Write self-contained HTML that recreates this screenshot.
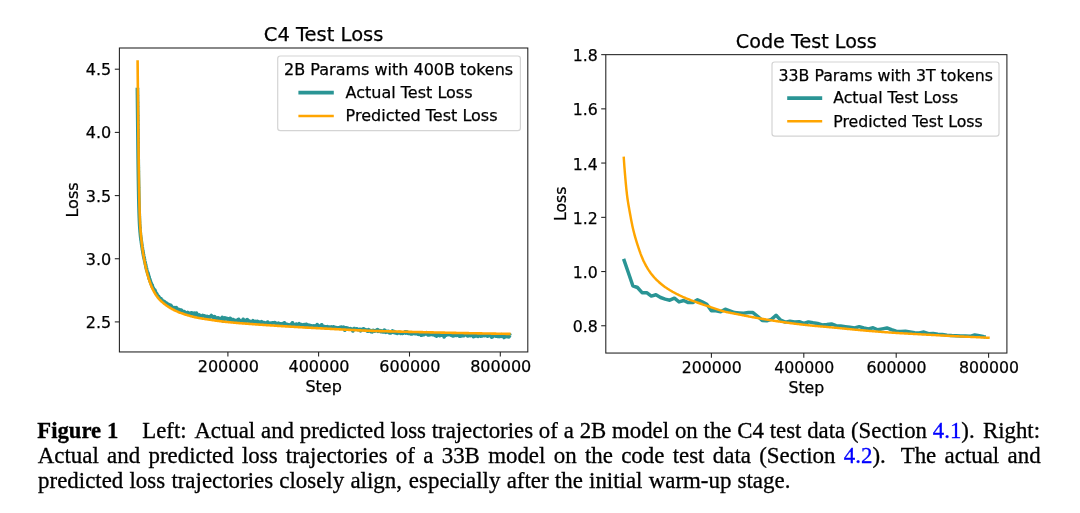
<!DOCTYPE html>
<html lang="en"><head><meta charset="utf-8"><title>Figure 1</title>
<style>
html,body{margin:0;padding:0;background:#fff}
body{width:1080px;height:513px;position:relative;overflow:hidden}
.cap{position:absolute;left:37.3px;height:0;font-family:"Liberation Serif","Times New Roman",serif;font-size:22.9px;line-height:0;color:#000;white-space:nowrap;-webkit-text-stroke:0.3px currentColor}
.gap{display:inline-block;height:1px}
.lk{color:#0000ff}
</style></head><body>
<svg width="1080" height="410" viewBox="0 0 1080 410" style="position:absolute;left:0;top:0" font-family='"DejaVu Sans", "Liberation Sans", sans-serif' font-size="16.0" fill="#000">
<style>text{stroke:#000;stroke-width:0.25px}.tk{stroke:#222;stroke-width:1.07}.sp{fill:none;stroke:#222;stroke-width:1.07}.ln{fill:none;stroke-linejoin:round;stroke-linecap:butt}</style>
<path class="ln" d="M137.41,87.75 L137.41,88.20 L137.41,88.65 L137.42,89.10 L137.42,89.55 L137.43,90.00 L137.43,90.45 L137.44,90.90 L137.44,91.35 L137.45,91.80 L137.45,92.25 L137.45,92.70 L137.46,93.15 L137.46,93.60 L137.47,94.05 L137.47,94.50 L137.48,94.95 L137.48,95.40 L137.49,95.85 L137.49,96.30 L137.50,96.75 L137.50,97.20 L137.51,97.65 L137.51,98.10 L137.52,98.55 L137.52,99.00 L137.52,99.45 L137.53,99.90 L137.53,100.35 L137.54,100.80 L137.54,101.25 L137.55,101.70 L137.55,102.15 L137.56,102.60 L137.56,103.05 L137.57,103.50 L137.57,103.95 L137.58,104.40 L137.58,104.85 L137.59,105.30 L137.59,105.75 L137.60,106.20 L137.60,106.65 L137.61,107.10 L137.61,107.55 L137.62,108.00 L137.62,108.45 L137.63,108.90 L137.63,109.35 L137.64,109.80 L137.64,110.25 L137.65,110.70 L137.65,111.15 L137.66,111.60 L137.66,112.05 L137.67,112.50 L137.67,112.95 L137.68,113.40 L137.68,113.85 L137.69,114.30 L137.69,114.75 L137.70,115.20 L137.70,115.65 L137.71,116.10 L137.71,116.55 L137.72,117.00 L137.72,117.45 L137.73,117.90 L137.73,118.35 L137.74,118.80 L137.74,119.25 L137.75,119.70 L137.75,120.15 L137.76,120.60 L137.76,121.05 L137.77,121.50 L137.77,121.95 L137.78,122.40 L137.78,122.85 L137.79,123.30 L137.79,123.75 L137.80,124.20 L137.80,124.65 L137.81,125.10 L137.81,125.55 L137.82,126.00 L137.82,126.45 L137.83,126.90 L137.83,127.35 L137.84,127.80 L137.84,128.25 L137.85,128.70 L137.85,129.15 L137.86,129.60 L137.86,130.05 L137.87,130.50 L137.87,130.95 L137.88,131.40 L137.88,131.85 L137.89,132.30 L137.89,132.75 L137.90,133.20 L137.90,133.65 L137.91,134.10 L137.91,134.55 L137.92,135.00 L137.92,135.45 L137.93,135.90 L137.93,136.35 L137.94,136.80 L137.94,137.25 L137.95,137.70 L137.95,138.15 L137.96,138.60 L137.96,139.05 L137.97,139.50 L137.97,139.95 L137.98,140.40 L137.98,140.85 L137.99,141.30 L137.99,141.75 L138.00,142.20 L138.00,142.65 L138.01,143.10 L138.01,143.55 L138.02,144.00 L138.02,144.45 L138.03,144.90 L138.03,145.35 L138.04,145.80 L138.04,146.25 L138.05,146.70 L138.05,147.15 L138.06,147.60 L138.06,148.05 L138.07,148.50 L138.07,148.95 L138.08,149.40 L138.08,149.85 L138.09,150.30 L138.09,150.75 L138.10,151.20 L138.10,151.65 L138.11,152.10 L138.11,152.55 L138.12,153.00 L138.13,153.45 L138.13,153.90 L138.14,154.35 L138.14,154.80 L138.15,155.25 L138.15,155.70 L138.16,156.15 L138.16,156.60 L138.17,157.05 L138.17,157.50 L138.18,157.95 L138.19,158.40 L138.19,158.85 L138.20,159.30 L138.20,159.75 L138.21,160.20 L138.21,160.65 L138.22,161.10 L138.23,161.55 L138.23,162.00 L138.24,162.45 L138.24,162.90 L138.25,163.35 L138.25,163.80 L138.26,164.25 L138.27,164.70 L138.27,165.15 L138.28,165.60 L138.28,166.05 L138.29,166.50 L138.30,166.95 L138.30,167.40 L138.31,167.85 L138.31,168.30 L138.32,168.75 L138.33,169.20 L138.33,169.65 L138.34,170.10 L138.35,170.55 L138.35,171.00 L138.36,171.45 L138.36,171.90 L138.37,172.35 L138.38,172.80 L138.38,173.25 L138.39,173.70 L138.40,174.15 L138.40,174.60 L138.41,175.05 L138.42,175.50 L138.42,175.95 L138.43,176.40 L138.44,176.85 L138.44,177.30 L138.45,177.75 L138.46,178.20 L138.47,178.65 L138.47,179.10 L138.48,179.55 L138.49,180.00 L138.49,180.45 L138.50,180.90 L138.51,181.35 L138.52,181.80 L138.52,182.25 L138.53,182.70 L138.54,183.15 L138.54,183.60 L138.55,184.05 L138.56,184.50 L138.57,184.95 L138.58,185.40 L138.58,185.85 L138.59,186.30 L138.60,186.75 L138.61,187.20 L138.61,187.65 L138.62,188.10 L138.63,188.55 L138.64,189.00 L138.65,189.45 L138.65,189.90 L138.66,190.35 L138.67,190.80 L138.68,191.25 L138.69,191.70 L138.70,192.15 L138.70,192.60 L138.71,193.05 L138.72,193.50 L138.73,193.95 L138.74,194.40 L138.75,194.85 L138.76,195.30 L138.76,195.75 L138.77,196.20 L138.78,196.65 L138.79,197.10 L138.80,197.55 L138.81,198.00 L138.82,198.45 L138.83,198.90 L138.84,199.35 L138.85,199.80 L138.86,200.25 L138.87,200.70 L138.88,201.15 L138.89,201.60 L138.90,202.05 L138.91,202.50 L138.92,202.95 L138.93,203.40 L138.94,203.85 L138.95,204.30 L138.96,204.75 L138.97,205.20 L138.98,205.65 L139.00,206.10 L139.01,206.55 L139.02,207.00 L139.03,207.45 L139.04,207.90 L139.06,208.35 L139.07,208.80 L139.08,209.25 L139.09,209.70 L139.11,210.15 L139.12,210.60 L139.13,211.05 L139.15,211.50 L139.16,211.95 L139.18,212.40 L139.19,212.85 L139.20,213.30 L139.22,213.75 L139.23,214.20 L139.25,214.65 L139.27,215.10 L139.28,215.55 L139.30,216.00 L139.31,216.45 L139.33,216.90 L139.35,217.35 L139.36,217.80 L139.38,218.25 L139.40,218.70 L139.42,219.15 L139.43,219.60 L139.45,220.05 L139.47,220.50 L139.49,220.95 L139.51,221.40 L139.53,221.85 L139.55,222.30 L139.57,222.75 L139.59,223.20 L139.61,223.65 L139.64,224.10 L139.66,224.55 L139.68,225.00 L139.71,225.45 L139.74,225.90 L139.77,226.35 L139.80,226.80 L139.82,227.25 L139.86,227.70 L139.89,228.15 L139.93,228.60 L139.97,229.05 L140.00,229.50 L140.02,229.95 L140.05,230.40 L140.10,230.85 L140.13,231.30 L140.17,231.75 L140.21,232.20 L140.25,232.65 L140.30,233.10 L140.36,233.54 L140.39,233.99 L140.42,234.44 L140.46,234.89 L140.51,235.34 L140.56,235.79 L140.61,236.24 L140.65,236.69 L140.71,237.13 L140.80,237.58 L140.86,238.02 L140.92,238.47 L140.98,238.92 L141.00,239.37 L140.99,239.82 L141.15,240.26 L141.22,240.70 L141.34,241.14 L141.35,241.59 L141.40,242.04 L141.42,242.49 L141.49,242.94 L141.59,243.38 L141.64,243.82 L141.68,244.27 L141.79,244.71 L141.88,245.15 L141.94,245.60 L141.97,246.05 L142.01,246.50 L142.10,246.94 L142.22,247.38 L142.30,247.82 L142.35,248.27 L142.39,248.72 L142.43,249.17 L142.48,249.62 L142.59,250.06 L142.69,250.50 L142.76,250.94 L142.86,251.38 L142.93,251.83 L142.96,252.28 L143.03,252.73 L143.13,253.17 L143.22,253.61 L143.29,254.06 L143.36,254.50 L143.60,254.92 L143.51,255.39 L143.59,255.83 L143.75,256.27 L143.85,256.70 L143.89,257.16 L143.98,257.60 L144.06,258.04 L144.17,258.48 L144.31,258.91 L144.43,259.35 L144.53,259.78 L144.59,260.23 L144.67,260.67 L144.75,261.12 L144.84,261.56 L144.98,261.99 L145.09,262.42 L145.20,262.86 L145.25,263.31 L145.30,263.76 L145.43,264.19 L145.60,264.61 L145.71,265.04 L145.75,265.49 L145.79,265.94 L145.89,266.38 L146.04,266.80 L146.08,267.25 L146.14,267.70 L146.38,268.11 L146.55,268.53 L146.52,269.00 L146.58,269.45 L146.72,269.88 L146.88,270.30 L147.05,270.73 L147.14,271.17 L147.27,271.60 L147.44,272.03 L147.56,272.46 L147.66,272.90 L148.05,273.27 L147.72,273.82 L147.95,274.23 L148.28,274.61 L148.41,275.04 L148.48,275.49 L148.62,275.92 L148.76,276.35 L148.99,276.75 L149.16,277.17 L149.07,277.66 L149.04,278.15 L149.19,278.57 L149.43,278.96 L149.78,279.32 L149.96,279.74 L149.89,280.23 L149.95,280.68 L150.29,281.03 L150.46,281.44 L150.43,281.93 L150.63,282.33 L150.92,282.69 L151.11,283.09 L151.20,283.53 L151.25,283.98 L151.35,284.41 L151.65,284.77 L152.11,285.06 L152.28,285.46 L152.24,285.95 L152.21,286.44 L152.33,286.87 L152.67,287.21 L153.01,287.55 L153.22,287.95 L153.35,288.39 L153.48,288.82 L153.77,289.19 L154.15,289.50 L154.60,289.78 L154.86,290.15 L154.79,290.69 L154.83,291.18 L155.39,291.38 L155.27,291.97 L155.50,292.35 L155.75,292.72 L156.02,293.08 L156.39,293.38 L156.68,293.71 L156.90,294.09 L157.07,294.50 L157.19,294.95 L157.42,295.31 L157.75,295.60 L158.08,295.89 L158.43,296.16 L158.61,296.54 L158.75,296.95 L159.03,297.26 L159.26,297.62 L159.57,297.91 L159.83,298.24 L160.05,298.63 L160.56,298.74 L161.04,298.88 L161.28,299.25 L161.54,299.61 L161.80,299.97 L162.09,300.31 L162.46,300.55 L162.86,300.77 L163.18,301.08 L163.48,301.42 L163.96,301.55 L164.39,301.73 L164.66,302.10 L165.03,302.36 L165.34,302.68 L165.60,303.08 L166.11,303.15 L166.62,303.20 L166.99,303.46 L167.29,303.79 L167.52,304.23 L167.94,304.39 L168.48,304.38 L168.87,304.57 L169.04,305.10 L169.27,305.54 L169.89,305.36 L170.53,305.14 L170.86,305.41 L170.93,306.10 L171.15,306.57 L171.71,306.48 L171.93,306.98 L172.07,307.61 L172.59,307.58 L172.94,307.87 L173.27,308.19 L173.94,307.87 L174.56,307.63 L174.90,307.92 L175.38,307.93 L176.04,307.57 L176.40,307.82 L176.53,308.58 L176.71,309.23 L177.00,309.66 L177.49,309.64 L178.09,309.36 L178.54,309.41 L178.96,309.52 L179.35,309.73 L179.62,310.20 L180.05,310.28 L180.59,310.07 L181.06,310.05 L181.48,310.17 L181.80,310.58 L182.12,310.97 L182.49,311.24 L182.74,311.84 L183.13,312.06 L183.74,311.65 L184.24,311.56 L184.55,312.03 L184.83,312.57 L185.28,312.63 L185.74,312.66 L186.04,313.18 L186.40,313.51 L187.04,312.98 L187.68,312.41 L188.06,312.68 L188.38,313.14 L188.86,313.09 L189.21,313.46 L189.45,314.24 L190.01,313.91 L190.65,313.27 L191.17,313.01 L191.68,312.82 L192.06,313.09 L192.38,313.61 L192.79,313.78 L193.20,313.95 L193.55,314.37 L194.29,313.17 L194.59,313.78 L195.06,313.69 L195.35,314.38 L195.70,314.79 L196.50,313.20 L196.68,314.39 L197.10,314.49 L197.50,314.73 L197.83,315.32 L198.22,315.58 L198.72,315.31 L199.24,314.94 L199.64,315.22 L199.91,316.16 L200.35,316.26 L200.86,315.90 L201.24,316.30 L201.67,316.40 L202.24,315.71 L202.73,315.48 L203.12,315.85 L203.54,316.00 L204.01,315.91 L204.46,315.91 L204.88,316.10 L205.24,316.69 L205.66,316.93 L206.14,316.73 L206.61,316.66 L207.09,316.43 L207.52,316.62 L207.91,317.04 L208.37,317.02 L208.86,316.79 L209.32,316.74 L209.72,317.13 L210.18,317.09 L210.76,316.22 L211.31,315.57 L211.72,315.92 L212.05,316.78 L212.49,316.90 L212.97,316.73 L213.33,317.37 L213.71,317.90 L214.20,317.61 L214.79,316.73 L215.02,318.26 L215.38,318.87 L215.87,318.59 L216.41,318.05 L216.85,318.14 L217.29,318.17 L217.79,317.89 L218.24,317.91 L218.66,318.11 L219.08,318.31 L219.48,318.67 L219.90,318.93 L220.37,318.72 L220.88,318.27 L221.30,318.51 L221.68,319.02 L222.33,317.46 L222.61,318.78 L223.04,318.90 L223.23,321.10 L223.83,319.75 L224.39,318.83 L224.93,317.87 L225.34,318.19 L225.72,318.83 L226.20,318.49 L226.67,318.29 L227.05,319.03 L227.47,319.28 L227.96,318.85 L228.41,318.83 L228.83,319.20 L229.28,319.19 L229.79,318.53 L230.25,318.40 L230.65,318.93 L231.02,319.72 L231.42,320.31 L231.90,319.98 L232.37,319.69 L232.83,319.60 L233.28,319.62 L233.67,320.31 L234.08,320.70 L234.56,320.40 L235.01,320.39 L235.45,320.54 L235.90,320.56 L236.31,320.95 L236.76,321.03 L237.27,320.22 L237.76,319.75 L238.24,319.46 L238.69,319.37 L239.06,320.41 L239.43,321.42 L239.87,321.52 L240.33,321.36 L240.81,321.05 L241.25,321.13 L241.68,321.43 L242.14,321.31 L242.60,321.26 L243.20,319.28 L243.53,320.89 L243.96,321.05 L244.41,321.12 L244.85,321.32 L245.27,321.70 L245.71,321.85 L246.22,321.04 L246.75,319.94 L247.22,319.67 L247.64,320.08 L248.04,320.79 L248.47,321.08 L248.94,320.84 L249.37,321.06 L249.80,321.46 L250.24,321.51 L250.69,321.54 L251.13,321.64 L251.57,321.85 L252.01,322.08 L252.50,321.48 L253.00,320.76 L253.42,321.25 L253.84,321.68 L254.31,321.40 L254.75,321.58 L255.16,322.14 L255.54,323.12 L256.11,321.47 L256.55,321.57 L257.01,321.51 L257.46,321.44 L257.88,321.95 L258.31,322.25 L258.78,321.96 L259.22,322.00 L259.62,322.78 L260.06,322.97 L260.55,322.43 L261.03,321.96 L261.50,321.61 L261.93,321.94 L262.34,322.56 L262.80,322.46 L263.24,322.52 L263.68,322.68 L264.14,322.59 L264.55,323.22 L264.97,323.68 L265.43,323.48 L265.88,323.45 L266.35,323.16 L266.84,322.61 L267.32,322.19 L267.78,322.08 L268.18,322.86 L268.57,323.65 L269.02,323.67 L269.47,323.68 L269.93,323.52 L270.41,323.16 L270.83,323.57 L271.27,323.83 L271.76,323.20 L272.23,322.92 L272.67,322.97 L273.13,322.90 L273.58,322.89 L274.04,322.82 L274.50,322.64 L274.94,322.77 L275.38,322.98 L275.80,323.39 L276.22,323.93 L276.67,323.83 L277.14,323.54 L277.58,323.72 L278.04,323.68 L278.52,323.12 L278.95,323.44 L279.34,324.43 L279.78,324.64 L280.26,324.15 L280.72,323.93 L281.17,324.02 L281.62,324.00 L282.08,323.92 L282.53,323.87 L282.97,324.04 L283.43,323.84 L283.94,322.98 L284.39,322.89 L284.78,323.95 L285.19,324.57 L285.66,324.31 L286.12,324.15 L286.55,324.50 L286.99,324.56 L287.45,324.47 L287.88,324.79 L288.33,324.91 L288.77,325.07 L289.19,325.54 L289.65,325.42 L290.14,324.77 L290.61,324.43 L291.04,324.81 L291.46,325.29 L291.93,324.85 L292.50,322.87 L292.88,324.14 L293.30,324.65 L293.74,324.83 L294.20,324.65 L294.63,324.99 L295.05,325.43 L295.53,324.97 L296.03,324.25 L296.48,324.13 L296.92,324.36 L297.36,324.58 L297.80,324.68 L298.24,324.96 L298.71,324.58 L299.21,323.78 L299.63,324.24 L300.03,325.06 L300.48,325.10 L300.95,324.70 L301.41,324.63 L301.81,325.44 L302.23,326.04 L302.70,325.67 L303.17,325.26 L303.64,324.95 L304.11,324.67 L304.55,324.77 L304.98,325.20 L305.41,325.52 L305.80,326.59 L306.38,324.28 L306.81,324.71 L307.23,325.25 L307.69,325.10 L308.14,325.04 L308.56,325.69 L309.00,325.83 L309.47,325.40 L309.92,325.44 L310.35,325.75 L310.80,325.84 L311.25,325.88 L311.70,325.92 L312.13,326.19 L312.57,326.46 L313.04,326.05 L313.50,325.86 L313.93,326.32 L314.38,326.25 L314.84,326.12 L315.27,326.42 L315.72,326.55 L316.18,326.39 L316.67,325.53 L317.17,324.69 L317.60,325.06 L318.01,325.88 L318.44,326.11 L318.89,326.20 L319.35,326.07 L319.80,326.10 L320.22,326.53 L320.68,326.40 L321.15,326.10 L321.67,324.80 L322.03,326.43 L322.46,326.87 L322.92,326.59 L323.38,326.39 L323.83,326.52 L324.27,326.72 L324.68,327.41 L325.12,327.69 L325.61,326.84 L326.00,328.08 L326.52,326.76 L326.97,326.74 L327.42,326.70 L327.85,327.20 L328.28,327.54 L328.75,327.12 L329.21,327.01 L329.64,327.29 L330.10,327.17 L330.53,327.52 L330.98,327.63 L331.46,327.07 L331.89,327.42 L332.31,328.04 L332.78,327.66 L333.27,326.91 L333.72,326.91 L334.14,327.38 L334.60,327.34 L335.05,327.35 L335.48,327.68 L335.93,327.66 L336.38,327.75 L336.81,328.06 L337.26,328.06 L337.73,327.86 L338.17,327.92 L338.61,328.17 L339.07,327.95 L339.55,327.51 L340.00,327.46 L340.46,327.33 L340.91,327.22 L341.37,327.10 L341.82,327.20 L342.23,327.83 L342.67,328.06 L343.14,327.77 L343.62,327.17 L344.05,327.57 L344.43,328.94 L344.81,330.20 L345.37,328.12 L345.84,327.77 L346.28,327.97 L346.72,328.24 L347.17,328.18 L347.62,328.17 L348.07,328.24 L348.50,328.64 L348.92,329.20 L349.38,329.07 L349.84,328.78 L350.31,328.58 L350.74,328.84 L351.18,329.14 L351.63,329.06 L352.07,329.37 L352.49,329.81 L352.89,330.94 L353.42,329.24 L353.91,328.64 L354.36,328.59 L354.80,328.76 L355.25,328.76 L355.69,329.00 L356.13,329.17 L356.60,328.85 L357.05,328.85 L357.47,329.34 L357.91,329.61 L358.36,329.55 L358.81,329.67 L359.26,329.67 L359.72,329.41 L360.17,329.46 L360.56,330.78 L361.05,329.85 L361.51,329.66 L361.96,329.61 L362.42,329.47 L362.89,329.01 L363.34,328.93 L363.79,328.90 L364.22,329.32 L364.64,330.13 L365.09,330.22 L365.55,329.94 L366.00,329.96 L366.44,330.15 L366.87,330.64 L367.30,331.05 L367.75,331.15 L368.20,331.15 L368.70,329.74 L369.12,330.70 L369.56,330.86 L370.02,330.58 L370.47,330.66 L370.90,331.36 L371.33,331.74 L371.78,331.76 L372.23,331.83 L372.71,331.09 L373.18,330.39 L373.62,330.64 L374.06,330.93 L374.51,331.10 L374.96,330.99 L375.41,330.88 L375.87,330.80 L376.33,330.27 L376.79,330.01 L377.23,330.45 L377.70,329.83 L378.10,331.24 L378.56,331.03 L379.02,330.86 L379.47,330.80 L379.92,330.60 L380.37,330.85 L380.79,331.70 L381.25,331.57 L381.71,331.02 L382.15,331.41 L382.59,331.78 L383.04,331.92 L383.49,331.99 L383.96,331.16 L384.44,330.20 L384.87,330.75 L385.29,331.93 L385.73,332.24 L386.19,331.74 L386.65,331.47 L387.09,331.94 L387.54,331.98 L388.01,331.34 L388.46,331.31 L388.89,332.01 L389.32,332.70 L389.77,332.89 L390.21,332.98 L390.67,332.85 L391.13,332.26 L391.59,332.02 L392.05,331.59 L392.52,330.97 L392.95,331.48 L393.39,332.20 L393.85,331.82 L394.30,331.71 L394.73,332.51 L395.17,332.85 L395.62,332.89 L396.07,332.73 L396.53,332.60 L396.96,333.33 L397.41,333.45 L397.87,332.87 L398.33,332.63 L398.78,332.47 L399.23,332.48 L399.68,332.41 L400.13,332.66 L400.56,333.32 L401.01,333.29 L401.47,333.00 L401.93,332.81 L402.37,332.86 L402.82,333.28 L403.27,333.13 L403.73,332.61 L404.18,332.73 L404.63,332.72 L405.10,331.78 L405.55,331.91 L405.97,333.08 L406.43,332.70 L406.90,331.81 L407.34,332.21 L407.78,332.92 L408.22,333.31 L408.66,333.49 L409.11,333.52 L409.57,333.36 L410.02,333.16 L410.47,333.40 L410.91,333.84 L411.35,333.95 L411.81,333.83 L412.26,333.83 L412.71,333.48 L413.18,333.00 L413.62,333.03 L414.07,333.17 L414.52,333.29 L414.96,333.51 L415.41,333.71 L415.86,333.63 L416.31,333.64 L416.76,333.71 L417.22,333.39 L417.66,333.62 L418.10,334.18 L418.55,334.31 L419.00,334.19 L419.45,334.09 L419.90,333.92 L420.36,333.75 L420.79,334.48 L421.22,335.19 L421.68,335.14 L422.13,334.96 L422.60,334.20 L423.07,333.44 L423.51,333.81 L423.94,334.61 L424.40,334.27 L424.87,333.42 L425.31,333.58 L425.76,333.81 L426.22,333.17 L426.69,332.63 L427.13,333.07 L427.56,333.76 L427.99,334.83 L428.46,333.99 L428.89,334.55 L429.34,334.77 L429.79,334.62 L430.24,334.64 L430.70,334.46 L431.16,333.77 L431.62,333.48 L432.05,334.20 L432.49,334.58 L432.95,334.34 L433.41,333.99 L433.86,333.95 L434.30,334.54 L434.73,335.18 L435.17,335.45 L435.63,335.04 L436.10,334.40 L436.51,336.17 L436.99,334.96 L437.44,334.84 L437.90,334.46 L438.35,334.43 L438.79,334.72 L439.23,335.15 L439.67,335.60 L440.14,335.09 L440.60,334.61 L441.03,335.24 L441.48,335.17 L441.95,334.69 L442.39,334.93 L442.84,335.09 L443.29,334.87 L443.75,334.72 L444.15,336.90 L444.63,335.54 L445.08,335.36 L445.53,335.25 L445.99,335.12 L446.45,334.67 L446.91,334.30 L447.35,334.41 L447.80,334.65 L448.26,334.32 L448.71,333.94 L449.17,333.87 L449.61,334.10 L450.05,334.70 L450.50,334.84 L450.95,334.90 L451.39,335.29 L451.84,335.26 L452.29,335.22 L452.73,335.60 L453.17,335.97 L453.63,335.74 L454.09,335.03 L454.56,334.47 L455.01,334.47 L455.45,334.93 L455.89,335.34 L456.34,335.39 L456.79,335.16 L457.25,335.01 L457.71,334.57 L458.16,334.30 L458.59,335.12 L459.03,335.97 L459.47,336.15 L459.92,336.22 L460.38,335.74 L460.85,334.89 L461.29,335.19 L461.73,335.70 L462.20,335.05 L462.65,334.70 L463.09,335.32 L463.53,335.73 L463.99,335.54 L464.45,335.15 L464.90,334.78 L465.36,334.49 L465.81,334.38 L466.26,334.37 L466.71,334.46 L467.15,335.18 L467.58,335.95 L468.04,335.74 L468.49,335.43 L468.94,335.37 L469.40,335.26 L469.84,335.64 L470.29,335.66 L470.75,334.97 L471.20,334.91 L471.65,335.12 L472.10,334.90 L472.55,334.86 L472.99,335.72 L473.42,336.66 L473.87,336.47 L474.33,336.13 L474.78,336.07 L475.24,335.50 L475.70,335.20 L476.14,335.83 L476.59,335.80 L477.05,335.16 L477.49,335.70 L477.93,336.24 L478.39,335.76 L478.84,335.63 L479.29,335.76 L479.74,335.65 L480.19,335.97 L480.63,336.19 L481.09,335.72 L481.55,335.55 L481.99,335.81 L482.44,335.80 L482.90,335.19 L483.36,334.81 L483.80,335.25 L484.25,335.42 L484.70,335.60 L485.16,334.87 L485.60,335.41 L486.05,335.09 L486.50,335.11 L486.95,335.62 L487.39,336.19 L487.84,336.15 L488.31,334.85 L488.75,335.30 L489.20,335.16 L489.65,335.28 L490.11,335.13 L490.56,335.10 L490.99,335.91 L491.43,336.82 L491.87,337.09 L492.33,336.52 L492.78,336.64 L493.24,335.80 L493.70,335.59 L494.16,335.20 L494.61,335.03 L495.05,335.33 L495.49,335.96 L495.94,336.18 L496.39,336.07 L496.84,336.13 L497.29,336.31 L497.74,335.92 L498.20,335.84 L498.64,336.47 L499.08,336.59 L499.54,336.45 L499.99,336.12 L500.45,335.82 L500.90,335.89 L501.34,336.23 L501.81,334.76 L502.24,336.22 L502.69,336.13 L503.14,336.08 L503.59,336.59 L504.02,337.45 L504.48,337.08 L504.95,336.03 L505.40,335.55 L505.85,335.81 L506.29,336.44 L506.74,336.56 L507.20,335.66 L507.66,335.29 L508.10,336.01 L508.54,336.78 L508.98,336.90 L509.45,335.79 L509.91,334.94 L510.35,335.54" stroke="#2a9595" stroke-width="3.7" stroke-linecap="square"/>
<path class="ln" d="M137.60,60.30 L137.61,60.97 L137.61,61.63 L137.62,62.30 L137.62,62.97 L137.63,63.63 L137.63,64.30 L137.64,64.97 L137.65,65.63 L137.65,66.30 L137.66,66.96 L137.66,67.63 L137.67,68.30 L137.68,68.96 L137.68,69.63 L137.69,70.30 L137.69,70.96 L137.70,71.63 L137.71,72.30 L137.71,72.96 L137.72,73.63 L137.73,74.30 L137.73,74.96 L137.74,75.63 L137.74,76.30 L137.75,76.96 L137.76,77.63 L137.76,78.29 L137.77,78.96 L137.78,79.63 L137.78,80.29 L137.79,80.96 L137.79,81.63 L137.80,82.29 L137.81,82.96 L137.81,83.63 L137.82,84.29 L137.83,84.96 L137.83,85.63 L137.84,86.29 L137.85,86.96 L137.85,87.62 L137.86,88.29 L137.87,88.96 L137.87,89.62 L137.88,90.29 L137.89,90.96 L137.89,91.62 L137.90,92.29 L137.91,92.96 L137.91,93.62 L137.92,94.29 L137.93,94.96 L137.93,95.62 L137.94,96.29 L137.95,96.96 L137.96,97.62 L137.96,98.29 L137.97,98.95 L137.98,99.62 L137.98,100.29 L137.99,100.95 L138.00,101.62 L138.00,102.29 L138.01,102.95 L138.02,103.62 L138.03,104.29 L138.03,104.95 L138.04,105.62 L138.05,106.29 L138.05,106.95 L138.06,107.62 L138.07,108.28 L138.08,108.95 L138.08,109.62 L138.09,110.28 L138.10,110.95 L138.11,111.62 L138.11,112.28 L138.12,112.95 L138.13,113.62 L138.14,114.28 L138.14,114.95 L138.15,115.62 L138.16,116.28 L138.17,116.95 L138.17,117.61 L138.18,118.28 L138.19,118.95 L138.20,119.61 L138.20,120.28 L138.21,120.95 L138.22,121.61 L138.23,122.28 L138.23,122.95 L138.24,123.61 L138.25,124.28 L138.26,124.95 L138.26,125.61 L138.27,126.28 L138.28,126.95 L138.29,127.61 L138.29,128.28 L138.30,128.94 L138.31,129.61 L138.31,130.28 L138.32,130.94 L138.33,131.61 L138.34,132.28 L138.34,132.94 L138.35,133.61 L138.36,134.28 L138.37,134.94 L138.37,135.61 L138.38,136.28 L138.39,136.94 L138.40,137.61 L138.40,138.27 L138.41,138.94 L138.42,139.61 L138.42,140.27 L138.43,140.94 L138.44,141.61 L138.45,142.27 L138.45,142.94 L138.46,143.61 L138.47,144.27 L138.48,144.94 L138.48,145.61 L138.49,146.27 L138.50,146.94 L138.51,147.61 L138.52,148.27 L138.52,148.94 L138.53,149.60 L138.54,150.27 L138.55,150.94 L138.55,151.60 L138.56,152.27 L138.57,152.94 L138.58,153.60 L138.59,154.27 L138.59,154.94 L138.60,155.60 L138.61,156.27 L138.62,156.94 L138.63,157.60 L138.63,158.27 L138.64,158.94 L138.65,159.60 L138.66,160.27 L138.67,160.93 L138.68,161.60 L138.68,162.27 L138.69,162.93 L138.70,163.60 L138.71,164.27 L138.72,164.93 L138.73,165.60 L138.74,166.27 L138.75,166.93 L138.75,167.60 L138.76,168.27 L138.77,168.93 L138.78,169.60 L138.79,170.26 L138.80,170.93 L138.81,171.60 L138.82,172.26 L138.83,172.93 L138.84,173.60 L138.85,174.26 L138.86,174.93 L138.87,175.60 L138.88,176.26 L138.89,176.93 L138.90,177.60 L138.91,178.26 L138.92,178.93 L138.93,179.59 L138.94,180.26 L138.95,180.93 L138.96,181.59 L138.97,182.26 L138.98,182.93 L138.99,183.59 L139.01,184.26 L139.02,184.93 L139.03,185.59 L139.04,186.26 L139.05,186.92 L139.06,187.59 L139.07,188.26 L139.09,188.92 L139.10,189.59 L139.11,190.26 L139.12,190.92 L139.14,191.59 L139.15,192.26 L139.16,192.92 L139.17,193.59 L139.19,194.25 L139.20,194.92 L139.21,195.59 L139.22,196.25 L139.24,196.92 L139.25,197.59 L139.27,198.25 L139.28,198.92 L139.29,199.59 L139.31,200.25 L139.32,200.92 L139.34,201.58 L139.35,202.25 L139.37,202.92 L139.38,203.58 L139.40,204.25 L139.42,204.92 L139.43,205.58 L139.45,206.25 L139.47,206.92 L139.48,207.58 L139.50,208.25 L139.52,208.92 L139.54,209.58 L139.56,210.25 L139.58,210.92 L139.60,211.58 L139.62,212.25 L139.64,212.91 L139.66,213.58 L139.69,214.25 L139.71,214.91 L139.73,215.58 L139.76,216.25 L139.78,216.91 L139.81,217.58 L139.83,218.24 L139.86,218.91 L139.88,219.57 L139.91,220.24 L139.94,220.90 L139.97,221.57 L140.00,222.23 L140.03,222.90 L140.06,223.56 L140.10,224.23 L140.13,224.90 L140.17,225.56 L140.21,226.23 L140.26,226.89 L140.30,227.56 L140.35,228.22 L140.40,228.89 L140.45,229.55 L140.50,230.22 L140.56,230.88 L140.61,231.55 L140.67,232.21 L140.73,232.88 L140.79,233.54 L140.85,234.20 L140.91,234.87 L140.98,235.53 L141.04,236.20 L141.11,236.86 L141.17,237.52 L141.24,238.19 L141.31,238.85 L141.38,239.51 L141.45,240.18 L141.52,240.84 L141.60,241.50 L141.67,242.16 L141.74,242.82 L141.82,243.49 L141.89,244.15 L141.97,244.81 L142.05,245.47 L142.13,246.13 L142.21,246.79 L142.30,247.45 L142.38,248.11 L142.47,248.77 L142.57,249.43 L142.66,250.10 L142.76,250.76 L142.85,251.42 L142.95,252.08 L143.06,252.74 L143.16,253.40 L143.26,254.06 L143.37,254.72 L143.48,255.38 L143.59,256.03 L143.71,256.69 L143.82,257.35 L143.94,258.01 L144.06,258.66 L144.18,259.32 L144.30,259.98 L144.42,260.63 L144.55,261.29 L144.67,261.94 L144.80,262.59 L144.93,263.25 L145.06,263.90 L145.20,264.55 L145.33,265.20 L145.47,265.85 L145.61,266.50 L145.75,267.15 L145.89,267.80 L146.04,268.45 L146.18,269.10 L146.34,269.75 L146.49,270.41 L146.65,271.06 L146.81,271.71 L146.97,272.36 L147.14,273.01 L147.31,273.66 L147.48,274.31 L147.65,274.96 L147.83,275.61 L148.02,276.26 L148.20,276.90 L148.39,277.54 L148.58,278.19 L148.78,278.82 L148.98,279.46 L149.19,280.10 L149.39,280.73 L149.60,281.36 L149.82,281.99 L150.04,282.61 L150.26,283.23 L150.49,283.85 L150.72,284.47 L150.95,285.08 L151.19,285.69 L151.44,286.30 L151.70,286.91 L151.97,287.53 L152.25,288.14 L152.53,288.76 L152.82,289.37 L153.13,289.98 L153.44,290.59 L153.75,291.19 L154.08,291.79 L154.41,292.38 L154.75,292.97 L155.09,293.55 L155.44,294.12 L155.80,294.69 L156.17,295.24 L156.54,295.79 L156.92,296.32 L157.30,296.85 L157.69,297.36 L158.08,297.86 L158.50,298.35 L158.92,298.84 L159.36,299.33 L159.82,299.81 L160.28,300.29 L160.76,300.76 L161.25,301.23 L161.74,301.69 L162.25,302.14 L162.76,302.59 L163.29,303.03 L163.81,303.46 L164.35,303.89 L164.88,304.31 L165.43,304.72 L165.97,305.12 L166.52,305.52 L167.07,305.90 L167.62,306.28 L168.16,306.65 L168.71,307.01 L169.26,307.36 L169.82,307.71 L170.39,308.05 L170.96,308.38 L171.54,308.71 L172.12,309.04 L172.71,309.36 L173.31,309.67 L173.91,309.98 L174.51,310.28 L175.12,310.57 L175.73,310.86 L176.34,311.14 L176.95,311.41 L177.57,311.68 L178.18,311.94 L178.80,312.19 L179.42,312.43 L180.03,312.66 L180.65,312.90 L181.27,313.13 L181.89,313.35 L182.52,313.58 L183.15,313.80 L183.78,314.01 L184.41,314.23 L185.05,314.44 L185.68,314.64 L186.32,314.84 L186.96,315.04 L187.60,315.24 L188.25,315.43 L188.89,315.62 L189.53,315.80 L190.18,315.98 L190.83,316.16 L191.47,316.33 L192.12,316.49 L192.77,316.66 L193.42,316.81 L194.07,316.97 L194.72,317.12 L195.36,317.26 L196.01,317.40 L196.66,317.54 L197.31,317.67 L197.96,317.80 L198.62,317.93 L199.27,318.05 L199.92,318.17 L200.58,318.28 L201.24,318.40 L201.89,318.51 L202.55,318.62 L203.21,318.72 L203.87,318.83 L204.53,318.93 L205.19,319.04 L205.85,319.14 L206.51,319.24 L207.17,319.33 L207.83,319.43 L208.49,319.53 L209.15,319.63 L209.81,319.72 L210.47,319.82 L211.13,319.91 L211.79,320.01 L212.45,320.11 L213.11,320.21 L213.77,320.30 L214.43,320.40 L215.09,320.50 L215.75,320.59 L216.41,320.69 L217.07,320.78 L217.73,320.88 L218.39,320.97 L219.05,321.06 L219.71,321.15 L220.37,321.24 L221.03,321.33 L221.69,321.41 L222.36,321.50 L223.02,321.58 L223.68,321.65 L224.34,321.73 L225.00,321.80 L225.67,321.87 L226.33,321.94 L226.99,322.01 L227.65,322.07 L228.32,322.14 L228.98,322.21 L229.64,322.27 L230.30,322.33 L230.97,322.40 L231.63,322.46 L232.30,322.52 L232.96,322.58 L233.62,322.64 L234.29,322.70 L234.95,322.75 L235.61,322.81 L236.28,322.87 L236.94,322.92 L237.61,322.98 L238.27,323.03 L238.94,323.09 L239.60,323.14 L240.27,323.19 L240.93,323.25 L241.59,323.30 L242.26,323.35 L242.92,323.40 L243.59,323.45 L244.25,323.51 L244.92,323.56 L245.58,323.61 L246.25,323.66 L246.91,323.71 L247.58,323.75 L248.24,323.80 L248.91,323.85 L249.57,323.90 L250.24,323.95 L250.90,324.00 L251.57,324.05 L252.23,324.10 L252.90,324.15 L253.56,324.19 L254.23,324.24 L254.89,324.29 L255.56,324.34 L256.22,324.39 L256.89,324.44 L257.55,324.49 L258.21,324.53 L258.88,324.58 L259.54,324.63 L260.21,324.68 L260.87,324.72 L261.54,324.77 L262.20,324.81 L262.87,324.86 L263.53,324.91 L264.20,324.95 L264.86,325.00 L265.53,325.04 L266.19,325.09 L266.86,325.13 L267.52,325.18 L268.19,325.22 L268.85,325.27 L269.52,325.31 L270.18,325.36 L270.85,325.40 L271.51,325.44 L272.18,325.49 L272.84,325.53 L273.51,325.57 L274.17,325.62 L274.84,325.66 L275.50,325.70 L276.17,325.74 L276.83,325.79 L277.50,325.83 L278.16,325.87 L278.83,325.91 L279.49,325.95 L280.16,326.00 L280.83,326.04 L281.49,326.08 L282.16,326.12 L282.82,326.16 L283.49,326.20 L284.15,326.24 L284.82,326.29 L285.48,326.33 L286.15,326.37 L286.81,326.41 L287.48,326.45 L288.14,326.49 L288.81,326.53 L289.47,326.57 L290.14,326.61 L290.80,326.65 L291.47,326.69 L292.13,326.73 L292.80,326.77 L293.47,326.81 L294.13,326.85 L294.80,326.89 L295.46,326.93 L296.13,326.97 L296.79,327.01 L297.46,327.05 L298.12,327.08 L298.79,327.12 L299.45,327.16 L300.12,327.20 L300.78,327.24 L301.45,327.28 L302.11,327.32 L302.78,327.36 L303.45,327.39 L304.11,327.43 L304.78,327.47 L305.44,327.51 L306.11,327.55 L306.77,327.58 L307.44,327.62 L308.10,327.66 L308.77,327.70 L309.43,327.73 L310.10,327.77 L310.77,327.81 L311.43,327.84 L312.10,327.88 L312.76,327.92 L313.43,327.95 L314.09,327.99 L314.76,328.03 L315.42,328.06 L316.09,328.10 L316.75,328.14 L317.42,328.17 L318.09,328.21 L318.75,328.24 L319.42,328.28 L320.08,328.32 L320.75,328.35 L321.41,328.39 L322.08,328.42 L322.74,328.46 L323.41,328.49 L324.08,328.53 L324.74,328.56 L325.41,328.60 L326.07,328.63 L326.74,328.67 L327.40,328.70 L328.07,328.74 L328.73,328.77 L329.40,328.81 L330.07,328.84 L330.73,328.88 L331.40,328.91 L332.06,328.95 L332.73,328.98 L333.39,329.02 L334.06,329.05 L334.72,329.09 L335.39,329.12 L336.06,329.15 L336.72,329.19 L337.39,329.22 L338.05,329.26 L338.72,329.29 L339.38,329.33 L340.05,329.36 L340.71,329.40 L341.38,329.44 L342.05,329.47 L342.71,329.51 L343.38,329.54 L344.04,329.58 L344.71,329.61 L345.37,329.65 L346.04,329.69 L346.71,329.72 L347.37,329.76 L348.04,329.79 L348.70,329.83 L349.37,329.86 L350.03,329.90 L350.70,329.93 L351.36,329.97 L352.03,330.00 L352.70,330.03 L353.36,330.07 L354.03,330.10 L354.69,330.14 L355.36,330.17 L356.02,330.20 L356.69,330.23 L357.36,330.27 L358.02,330.30 L358.69,330.33 L359.35,330.36 L360.02,330.39 L360.68,330.42 L361.35,330.45 L362.02,330.48 L362.68,330.51 L363.35,330.54 L364.01,330.57 L364.68,330.60 L365.35,330.62 L366.01,330.65 L366.68,330.68 L367.34,330.70 L368.01,330.73 L368.67,330.75 L369.34,330.78 L370.01,330.80 L370.67,330.82 L371.34,330.85 L372.00,330.87 L372.67,330.89 L373.34,330.91 L374.00,330.93 L374.67,330.95 L375.33,330.98 L376.00,331.00 L376.67,331.02 L377.33,331.04 L378.00,331.06 L378.67,331.08 L379.33,331.10 L380.00,331.12 L380.66,331.14 L381.33,331.16 L382.00,331.17 L382.66,331.19 L383.33,331.21 L383.99,331.23 L384.66,331.25 L385.33,331.27 L385.99,331.29 L386.66,331.30 L387.33,331.32 L387.99,331.34 L388.66,331.36 L389.32,331.37 L389.99,331.39 L390.66,331.41 L391.32,331.42 L391.99,331.44 L392.66,331.46 L393.32,331.47 L393.99,331.49 L394.66,331.51 L395.32,331.52 L395.99,331.54 L396.65,331.56 L397.32,331.57 L397.99,331.59 L398.65,331.60 L399.32,331.62 L399.99,331.63 L400.65,331.65 L401.32,331.67 L401.98,331.68 L402.65,331.70 L403.32,331.71 L403.98,331.73 L404.65,331.74 L405.32,331.76 L405.98,331.77 L406.65,331.79 L407.32,331.80 L407.98,331.82 L408.65,331.83 L409.31,331.85 L409.98,331.87 L410.65,331.88 L411.31,331.90 L411.98,331.91 L412.65,331.93 L413.31,331.94 L413.98,331.96 L414.65,331.97 L415.31,331.99 L415.98,332.00 L416.64,332.02 L417.31,332.04 L417.98,332.05 L418.64,332.07 L419.31,332.08 L419.98,332.10 L420.64,332.12 L421.31,332.13 L421.98,332.15 L422.64,332.16 L423.31,332.18 L423.97,332.20 L424.64,332.21 L425.31,332.23 L425.97,332.24 L426.64,332.26 L427.31,332.27 L427.97,332.29 L428.64,332.31 L429.30,332.32 L429.97,332.34 L430.64,332.35 L431.30,332.37 L431.97,332.38 L432.64,332.40 L433.30,332.42 L433.97,332.43 L434.63,332.45 L435.30,332.46 L435.97,332.48 L436.63,332.49 L437.30,332.51 L437.97,332.52 L438.63,332.54 L439.30,332.55 L439.97,332.57 L440.63,332.58 L441.30,332.60 L441.96,332.61 L442.63,332.63 L443.30,332.64 L443.96,332.66 L444.63,332.67 L445.30,332.69 L445.96,332.70 L446.63,332.72 L447.29,332.73 L447.96,332.75 L448.63,332.76 L449.29,332.78 L449.96,332.79 L450.63,332.81 L451.29,332.82 L451.96,332.83 L452.63,332.85 L453.29,332.86 L453.96,332.88 L454.62,332.89 L455.29,332.90 L455.96,332.92 L456.62,332.93 L457.29,332.95 L457.96,332.96 L458.62,332.97 L459.29,332.99 L459.96,333.00 L460.62,333.01 L461.29,333.03 L461.95,333.04 L462.62,333.05 L463.29,333.07 L463.95,333.08 L464.62,333.09 L465.29,333.10 L465.95,333.12 L466.62,333.13 L467.29,333.14 L467.95,333.16 L468.62,333.17 L469.28,333.18 L469.95,333.20 L470.62,333.21 L471.28,333.22 L471.95,333.23 L472.62,333.25 L473.28,333.26 L473.95,333.27 L474.61,333.28 L475.28,333.30 L475.95,333.31 L476.61,333.32 L477.28,333.33 L477.95,333.35 L478.61,333.36 L479.28,333.37 L479.95,333.38 L480.61,333.40 L481.28,333.41 L481.95,333.42 L482.61,333.43 L483.28,333.44 L483.94,333.46 L484.61,333.47 L485.28,333.48 L485.94,333.49 L486.61,333.50 L487.28,333.52 L487.94,333.53 L488.61,333.54 L489.28,333.55 L489.94,333.56 L490.61,333.57 L491.27,333.59 L491.94,333.60 L492.61,333.61 L493.27,333.62 L493.94,333.63 L494.61,333.64 L495.27,333.65 L495.94,333.67 L496.61,333.68 L497.27,333.69 L497.94,333.70 L498.60,333.71 L499.27,333.72 L499.94,333.73 L500.60,333.74 L501.27,333.75 L501.94,333.76 L502.60,333.77 L503.27,333.79 L503.94,333.80 L504.60,333.81 L505.27,333.82 L505.94,333.83 L506.60,333.84 L507.27,333.85 L507.93,333.86 L508.60,333.87 L509.27,333.88 L509.93,333.89 L510.60,333.90" stroke="#ffa500" stroke-width="2.6" stroke-linecap="square"/>
<rect class="sp" x="119.4" y="48.0" width="408.40" height="303.95"/>
<line x1="227.90" y1="351.95" x2="227.90" y2="356.55" class="tk"/>
<text x="228.30" y="371.85" text-anchor="middle" font-size="16.00">200000</text>
<line x1="318.60" y1="351.95" x2="318.60" y2="356.55" class="tk"/>
<text x="319.00" y="371.85" text-anchor="middle" font-size="16.00">400000</text>
<line x1="409.50" y1="351.95" x2="409.50" y2="356.55" class="tk"/>
<text x="409.90" y="371.85" text-anchor="middle" font-size="16.00">600000</text>
<line x1="500.30" y1="351.95" x2="500.30" y2="356.55" class="tk"/>
<text x="500.70" y="371.85" text-anchor="middle" font-size="16.00">800000</text>
<line x1="114.80" y1="69.20" x2="119.40" y2="69.20" class="tk"/>
<text x="111.25" y="75.20" text-anchor="end" font-size="16.00">4.5</text>
<line x1="114.80" y1="132.40" x2="119.40" y2="132.40" class="tk"/>
<text x="111.25" y="138.40" text-anchor="end" font-size="16.00">4.0</text>
<line x1="114.80" y1="195.60" x2="119.40" y2="195.60" class="tk"/>
<text x="111.25" y="201.60" text-anchor="end" font-size="16.00">3.5</text>
<line x1="114.80" y1="258.75" x2="119.40" y2="258.75" class="tk"/>
<text x="111.25" y="264.75" text-anchor="end" font-size="16.00">3.0</text>
<line x1="114.80" y1="321.90" x2="119.40" y2="321.90" class="tk"/>
<text x="111.25" y="327.90" text-anchor="end" font-size="16.00">2.5</text>
<text x="323.60" y="392.15" text-anchor="middle" font-size="16.00">Step</text>
<text transform="translate(78.20,199.97) rotate(-90)" text-anchor="middle" font-size="16.00">Loss</text>
<text x="323.60" y="41.30" text-anchor="middle" font-size="19.50">C4 Test Loss</text>
<rect x="277.70" y="56.00" width="242.70" height="74.60" rx="2.7" fill="#fff" fill-opacity="0.8" stroke="#d4d4d4" stroke-width="1.2"/>
<text x="398.65" y="74.80" text-anchor="middle" font-size="16.00">2B Params with 400B tokens</text>
<line x1="298.40" y1="92.70" x2="333.80" y2="92.70" stroke="#2a9595" stroke-width="3.7"/>
<text x="345.60" y="97.70" font-size="16.00">Actual Test Loss</text>
<line x1="298.40" y1="116.00" x2="333.80" y2="116.00" stroke="#ffa500" stroke-width="2.6"/>
<text x="345.60" y="121.30" font-size="16.00">Predicted Test Loss</text>
<path class="ln" d="M623.60,258.90 L628.22,272.30 L632.84,285.80 L637.46,287.50 L642.08,292.70 L646.70,292.70 L651.32,296.10 L655.94,294.80 L660.56,297.50 L665.18,299.10 L669.80,300.20 L674.42,298.20 L679.04,301.90 L683.66,300.50 L688.28,302.60 L692.90,302.60 L697.52,299.80 L702.14,301.90 L706.76,304.30 L711.38,310.80 L716.00,310.80 L720.62,311.70 L725.24,309.20 L729.86,310.80 L734.48,312.60 L739.10,313.00 L743.72,313.30 L748.34,312.60 L752.96,312.60 L757.58,316.30 L762.20,320.40 L766.82,320.80 L771.44,319.40 L776.06,315.30 L780.68,320.10 L785.30,322.10 L789.92,321.20 L794.54,321.90 L799.16,321.70 L803.78,323.50 L808.40,321.90 L813.02,322.80 L817.64,323.50 L822.26,324.90 L826.88,324.50 L831.50,323.90 L836.12,325.65 L840.74,326.05 L845.36,326.65 L849.98,327.35 L854.60,327.95 L859.22,326.65 L863.84,327.95 L868.46,328.85 L873.08,327.75 L877.70,329.75 L882.32,328.85 L886.94,327.95 L891.56,329.75 L896.18,331.15 L900.80,331.45 L905.42,331.25 L910.04,332.05 L914.66,332.75 L919.28,333.05 L923.90,332.05 L928.52,333.75 L933.14,333.45 L937.76,334.15 L942.38,334.55 L947.00,335.15 L951.62,335.55 L956.24,335.75 L960.86,336.05 L965.48,336.05 L970.10,336.35 L974.72,334.95 L979.34,335.65 L983.96,336.65 L985.80,336.90" stroke="#2a9595" stroke-width="3.5" stroke-linecap="square"/>
<path class="ln" d="M623.70,156.60 L623.75,157.39 L623.80,158.17 L623.85,158.96 L623.90,159.75 L623.96,160.53 L624.01,161.32 L624.07,162.11 L624.12,162.89 L624.18,163.68 L624.24,164.47 L624.29,165.25 L624.35,166.04 L624.41,166.83 L624.47,167.61 L624.53,168.40 L624.60,169.18 L624.66,169.97 L624.72,170.75 L624.78,171.54 L624.85,172.33 L624.91,173.11 L624.98,173.90 L625.04,174.68 L625.11,175.47 L625.18,176.25 L625.25,177.04 L625.31,177.82 L625.38,178.61 L625.45,179.40 L625.52,180.18 L625.59,180.97 L625.66,181.75 L625.73,182.54 L625.81,183.32 L625.88,184.11 L625.95,184.89 L626.03,185.68 L626.10,186.46 L626.18,187.25 L626.26,188.03 L626.34,188.82 L626.42,189.60 L626.50,190.39 L626.59,191.17 L626.68,191.95 L626.76,192.74 L626.85,193.52 L626.94,194.30 L627.04,195.08 L627.13,195.87 L627.23,196.65 L627.33,197.43 L627.44,198.21 L627.55,198.99 L627.66,199.77 L627.78,200.55 L627.90,201.33 L628.02,202.11 L628.15,202.88 L628.27,203.66 L628.40,204.44 L628.54,205.22 L628.67,206.00 L628.80,206.77 L628.94,207.55 L629.08,208.33 L629.22,209.10 L629.36,209.88 L629.50,210.66 L629.64,211.43 L629.78,212.21 L629.92,212.98 L630.05,213.76 L630.19,214.54 L630.33,215.31 L630.48,216.09 L630.62,216.86 L630.76,217.64 L630.91,218.42 L631.05,219.19 L631.20,219.97 L631.35,220.74 L631.50,221.52 L631.65,222.29 L631.80,223.07 L631.96,223.84 L632.12,224.61 L632.28,225.38 L632.45,226.15 L632.61,226.92 L632.78,227.69 L632.96,228.46 L633.14,229.22 L633.32,229.99 L633.50,230.75 L633.69,231.52 L633.88,232.28 L634.08,233.05 L634.28,233.81 L634.48,234.57 L634.69,235.33 L634.90,236.09 L635.11,236.86 L635.32,237.61 L635.54,238.37 L635.77,239.13 L635.99,239.89 L636.22,240.65 L636.45,241.40 L636.68,242.15 L636.91,242.91 L637.15,243.66 L637.39,244.41 L637.63,245.16 L637.88,245.91 L638.12,246.66 L638.37,247.41 L638.62,248.15 L638.87,248.90 L639.12,249.65 L639.38,250.39 L639.64,251.14 L639.91,251.89 L640.18,252.63 L640.45,253.37 L640.72,254.12 L641.01,254.86 L641.29,255.59 L641.58,256.33 L641.88,257.06 L642.18,257.79 L642.49,258.51 L642.80,259.23 L643.12,259.95 L643.44,260.66 L643.77,261.37 L644.12,262.08 L644.46,262.78 L644.82,263.49 L645.19,264.19 L645.56,264.89 L645.94,265.59 L646.33,266.28 L646.72,266.97 L647.12,267.66 L647.53,268.34 L647.95,269.02 L648.37,269.68 L648.80,270.35 L649.24,271.00 L649.68,271.65 L650.13,272.29 L650.58,272.92 L651.05,273.54 L651.52,274.16 L652.01,274.78 L652.51,275.39 L653.02,276.00 L653.53,276.60 L654.06,277.20 L654.59,277.79 L655.14,278.37 L655.68,278.95 L656.24,279.52 L656.80,280.08 L657.37,280.64 L657.94,281.19 L658.51,281.72 L659.09,282.25 L659.67,282.77 L660.26,283.29 L660.85,283.79 L661.46,284.29 L662.07,284.78 L662.70,285.27 L663.33,285.75 L663.96,286.22 L664.61,286.69 L665.25,287.15 L665.91,287.60 L666.56,288.05 L667.22,288.49 L667.89,288.92 L668.55,289.34 L669.21,289.76 L669.88,290.17 L670.55,290.58 L671.23,290.98 L671.91,291.37 L672.59,291.77 L673.28,292.15 L673.97,292.53 L674.66,292.91 L675.36,293.28 L676.06,293.65 L676.77,294.01 L677.47,294.37 L678.18,294.72 L678.89,295.07 L679.60,295.42 L680.32,295.76 L681.03,296.09 L681.75,296.42 L682.46,296.75 L683.18,297.07 L683.90,297.38 L684.62,297.69 L685.35,298.00 L686.07,298.30 L686.80,298.60 L687.54,298.89 L688.27,299.18 L689.01,299.47 L689.74,299.75 L690.48,300.03 L691.22,300.31 L691.96,300.58 L692.70,300.86 L693.44,301.13 L694.18,301.40 L694.92,301.67 L695.67,301.94 L696.41,302.21 L697.15,302.48 L697.89,302.74 L698.63,303.01 L699.38,303.27 L700.12,303.52 L700.87,303.78 L701.61,304.03 L702.36,304.29 L703.11,304.54 L703.86,304.79 L704.60,305.04 L705.35,305.29 L706.10,305.54 L706.85,305.79 L707.60,306.03 L708.34,306.28 L709.09,306.53 L709.84,306.78 L710.59,307.04 L711.33,307.29 L712.08,307.55 L712.83,307.81 L713.57,308.08 L714.32,308.34 L715.06,308.60 L715.81,308.86 L716.56,309.12 L717.30,309.38 L718.05,309.63 L718.80,309.88 L719.55,310.13 L720.30,310.37 L721.05,310.60 L721.80,310.83 L722.56,311.05 L723.32,311.26 L724.07,311.47 L724.84,311.66 L725.60,311.84 L726.36,312.02 L727.13,312.18 L727.90,312.35 L728.68,312.50 L729.45,312.65 L730.23,312.80 L731.00,312.94 L731.78,313.09 L732.56,313.23 L733.33,313.38 L734.11,313.53 L734.88,313.68 L735.66,313.83 L736.43,313.98 L737.20,314.14 L737.98,314.30 L738.75,314.45 L739.52,314.61 L740.29,314.76 L741.07,314.92 L741.84,315.08 L742.61,315.23 L743.39,315.39 L744.16,315.54 L744.93,315.69 L745.71,315.85 L746.48,316.00 L747.25,316.15 L748.03,316.30 L748.80,316.45 L749.58,316.60 L750.35,316.74 L751.12,316.89 L751.90,317.03 L752.68,317.17 L753.45,317.31 L754.23,317.45 L755.00,317.58 L755.78,317.72 L756.56,317.86 L757.33,318.00 L758.11,318.13 L758.89,318.27 L759.66,318.40 L760.44,318.54 L761.22,318.67 L761.99,318.81 L762.77,318.94 L763.55,319.07 L764.33,319.20 L765.10,319.33 L765.88,319.46 L766.66,319.59 L767.44,319.72 L768.22,319.85 L768.99,319.97 L769.77,320.10 L770.55,320.22 L771.33,320.35 L772.11,320.47 L772.89,320.59 L773.67,320.71 L774.45,320.83 L775.22,320.95 L776.00,321.07 L776.78,321.19 L777.56,321.30 L778.34,321.42 L779.12,321.53 L779.90,321.64 L780.68,321.76 L781.46,321.87 L782.24,321.98 L783.02,322.09 L783.80,322.20 L784.58,322.31 L785.37,322.42 L786.15,322.52 L786.93,322.63 L787.71,322.74 L788.49,322.84 L789.27,322.95 L790.05,323.06 L790.84,323.16 L791.62,323.26 L792.40,323.36 L793.18,323.47 L793.96,323.57 L794.75,323.67 L795.53,323.77 L796.31,323.86 L797.09,323.96 L797.88,324.06 L798.66,324.15 L799.44,324.25 L800.22,324.34 L801.01,324.44 L801.79,324.53 L802.57,324.62 L803.36,324.71 L804.14,324.80 L804.92,324.88 L805.71,324.97 L806.49,325.06 L807.27,325.14 L808.06,325.22 L808.84,325.30 L809.62,325.39 L810.41,325.46 L811.19,325.54 L811.98,325.62 L812.76,325.70 L813.55,325.77 L814.33,325.85 L815.12,325.92 L815.90,325.99 L816.69,326.06 L817.47,326.14 L818.26,326.21 L819.04,326.28 L819.83,326.35 L820.61,326.42 L821.40,326.49 L822.18,326.55 L822.97,326.62 L823.75,326.69 L824.54,326.76 L825.32,326.83 L826.11,326.90 L826.90,326.97 L827.68,327.04 L828.47,327.11 L829.25,327.18 L830.04,327.25 L830.82,327.32 L831.61,327.39 L832.39,327.46 L833.18,327.53 L833.96,327.60 L834.75,327.68 L835.53,327.75 L836.32,327.83 L837.10,327.90 L837.89,327.98 L838.67,328.05 L839.46,328.13 L840.24,328.21 L841.03,328.28 L841.81,328.36 L842.60,328.44 L843.38,328.52 L844.16,328.59 L844.95,328.67 L845.73,328.75 L846.52,328.83 L847.30,328.91 L848.09,328.98 L848.87,329.06 L849.66,329.14 L850.44,329.22 L851.23,329.29 L852.01,329.37 L852.79,329.45 L853.58,329.52 L854.36,329.60 L855.15,329.67 L855.93,329.75 L856.72,329.82 L857.50,329.89 L858.29,329.97 L859.07,330.04 L859.86,330.11 L860.64,330.18 L861.43,330.25 L862.21,330.32 L863.00,330.39 L863.78,330.46 L864.57,330.52 L865.36,330.59 L866.14,330.66 L866.93,330.73 L867.71,330.79 L868.50,330.86 L869.28,330.93 L870.07,330.99 L870.85,331.06 L871.64,331.12 L872.43,331.19 L873.21,331.25 L874.00,331.32 L874.78,331.38 L875.57,331.45 L876.35,331.51 L877.14,331.57 L877.93,331.64 L878.71,331.70 L879.50,331.76 L880.28,331.82 L881.07,331.88 L881.86,331.94 L882.64,332.00 L883.43,332.06 L884.22,332.12 L885.00,332.18 L885.79,332.23 L886.57,332.29 L887.36,332.34 L888.15,332.40 L888.93,332.45 L889.72,332.51 L890.51,332.56 L891.29,332.61 L892.08,332.67 L892.87,332.72 L893.65,332.77 L894.44,332.82 L895.23,332.87 L896.01,332.92 L896.80,332.97 L897.59,333.02 L898.37,333.06 L899.16,333.11 L899.95,333.16 L900.73,333.21 L901.52,333.25 L902.31,333.30 L903.09,333.35 L903.88,333.39 L904.67,333.44 L905.46,333.48 L906.24,333.53 L907.03,333.57 L907.82,333.62 L908.60,333.66 L909.39,333.71 L910.18,333.75 L910.97,333.80 L911.75,333.84 L912.54,333.88 L913.33,333.93 L914.11,333.97 L914.90,334.02 L915.69,334.06 L916.48,334.10 L917.26,334.15 L918.05,334.19 L918.84,334.23 L919.62,334.28 L920.41,334.32 L921.20,334.37 L921.99,334.41 L922.77,334.45 L923.56,334.50 L924.35,334.54 L925.13,334.59 L925.92,334.63 L926.71,334.67 L927.50,334.72 L928.28,334.76 L929.07,334.80 L929.86,334.84 L930.65,334.89 L931.43,334.93 L932.22,334.97 L933.01,335.01 L933.79,335.06 L934.58,335.10 L935.37,335.14 L936.16,335.18 L936.94,335.22 L937.73,335.27 L938.52,335.31 L939.30,335.35 L940.09,335.39 L940.88,335.43 L941.67,335.47 L942.45,335.51 L943.24,335.55 L944.03,335.59 L944.82,335.64 L945.60,335.68 L946.39,335.72 L947.18,335.76 L947.97,335.80 L948.75,335.84 L949.54,335.88 L950.33,335.92 L951.11,335.96 L951.90,336.00 L952.69,336.04 L953.48,336.08 L954.26,336.11 L955.05,336.15 L955.84,336.19 L956.63,336.23 L957.41,336.27 L958.20,336.31 L958.99,336.35 L959.78,336.39 L960.56,336.43 L961.35,336.47 L962.14,336.50 L962.93,336.54 L963.71,336.58 L964.50,336.62 L965.29,336.66 L966.07,336.70 L966.86,336.74 L967.65,336.77 L968.44,336.81 L969.22,336.85 L970.01,336.89 L970.80,336.92 L971.59,336.96 L972.37,337.00 L973.16,337.04 L973.95,337.07 L974.74,337.11 L975.52,337.15 L976.31,337.19 L977.10,337.22 L977.89,337.26 L978.67,337.30 L979.46,337.33 L980.25,337.37 L981.04,337.41 L981.82,337.44 L982.61,337.48 L983.40,337.51 L984.19,337.55 L984.97,337.59 L985.76,337.62 L986.55,337.66 L987.34,337.69 L988.12,337.73 L988.91,337.76 L989.70,337.80" stroke="#ffa500" stroke-width="2.45" stroke-linecap="square"/>
<rect class="sp" x="605.8" y="54.65" width="401.10" height="298.40"/>
<line x1="711.40" y1="353.05" x2="711.40" y2="357.65" class="tk"/>
<text x="711.80" y="372.95" text-anchor="middle" font-size="15.73">200000</text>
<line x1="803.80" y1="353.05" x2="803.80" y2="357.65" class="tk"/>
<text x="804.20" y="372.95" text-anchor="middle" font-size="15.73">400000</text>
<line x1="896.20" y1="353.05" x2="896.20" y2="357.65" class="tk"/>
<text x="896.60" y="372.95" text-anchor="middle" font-size="15.73">600000</text>
<line x1="988.60" y1="353.05" x2="988.60" y2="357.65" class="tk"/>
<text x="989.00" y="372.95" text-anchor="middle" font-size="15.73">800000</text>
<line x1="601.20" y1="54.65" x2="605.80" y2="54.65" class="tk"/>
<text x="597.65" y="61.10" text-anchor="end" font-size="15.73">1.8</text>
<line x1="601.20" y1="108.85" x2="605.80" y2="108.85" class="tk"/>
<text x="597.65" y="115.30" text-anchor="end" font-size="15.73">1.6</text>
<line x1="601.20" y1="163.05" x2="605.80" y2="163.05" class="tk"/>
<text x="597.65" y="169.50" text-anchor="end" font-size="15.73">1.4</text>
<line x1="601.20" y1="217.35" x2="605.80" y2="217.35" class="tk"/>
<text x="597.65" y="223.80" text-anchor="end" font-size="15.73">1.2</text>
<line x1="601.20" y1="271.55" x2="605.80" y2="271.55" class="tk"/>
<text x="597.65" y="278.00" text-anchor="end" font-size="15.73">1.0</text>
<line x1="601.20" y1="325.75" x2="605.80" y2="325.75" class="tk"/>
<text x="597.65" y="332.20" text-anchor="end" font-size="15.73">0.8</text>
<text x="806.35" y="393.25" text-anchor="middle" font-size="15.73">Step</text>
<text transform="translate(565.70,203.85) rotate(-90)" text-anchor="middle" font-size="15.73">Loss</text>
<text x="806.35" y="47.50" text-anchor="middle" font-size="19.17">Code Test Loss</text>
<rect x="772.00" y="62.00" width="227.00" height="74.20" rx="2.7" fill="#fff" fill-opacity="0.8" stroke="#d4d4d4" stroke-width="1.2"/>
<text x="885.70" y="80.80" text-anchor="middle" font-size="15.76">33B Params with 3T tokens</text>
<line x1="787.20" y1="98.10" x2="822.20" y2="98.10" stroke="#2a9595" stroke-width="3.6"/>
<text x="833.20" y="103.40" font-size="15.76">Actual Test Loss</text>
<line x1="787.20" y1="121.30" x2="822.20" y2="121.30" stroke="#ffa500" stroke-width="2.5"/>
<text x="833.20" y="126.60" font-size="15.76">Predicted Test Loss</text>
</svg>
<div class="cap" style="top:430.7px;word-spacing:0.144px"><b style="font-size:22.7px">Figure 1</b><span class="gap" style="width:24.0px"></span><span id="l1" style="font-size:22.8px">Left:<span class="gap" style="width:3.2px"></span> Actual and predicted loss trajectories of a 2B model on the C4 test data (Section&nbsp;<span class="lk">4.1</span>).<span class="gap" style="width:2.5px"></span> Right:</span></div>
<div class="cap" style="top:455.9px;word-spacing:2.585px;left:37.8px"><span id="l2">Actual and predicted loss trajectories of a 33B model on the code test data (Section&nbsp;<span class="lk">4.2</span>).<span class="gap" style="width:7px"></span> The actual and</span></div>
<div class="cap" style="top:481.4px;word-spacing:0.534px;left:38.1px"><span id="l3">predicted loss trajectories closely align,<span class="gap" style="width:0.7px"></span> especially after the initial warm-up stage.</span></div>
</body></html>
